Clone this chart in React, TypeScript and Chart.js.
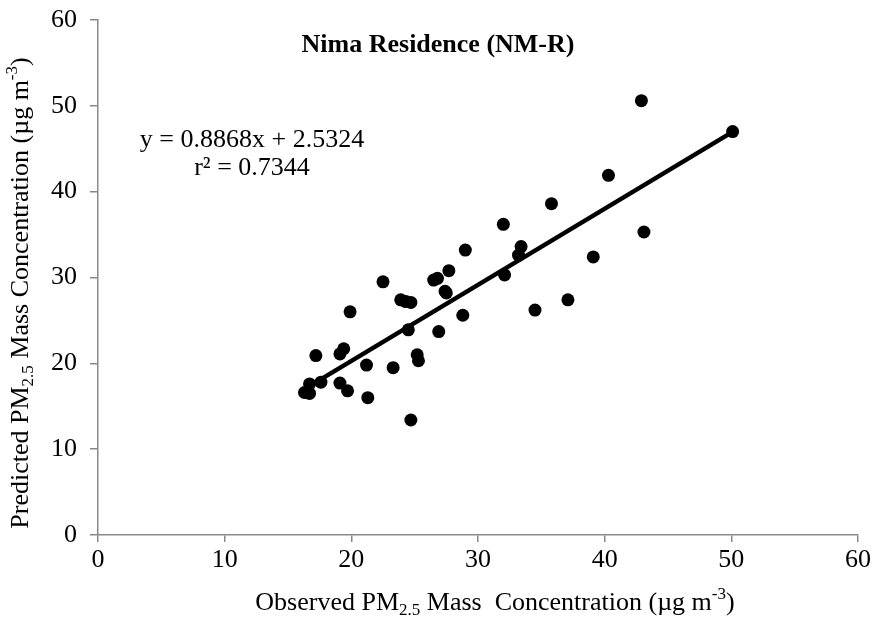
import React, { useEffect, useRef } from 'react';
import { Chart, registerables } from 'chart.js';

Chart.register(...registerables);

const observed = [16.3, 16.7, 16.7, 17.2, 17.6, 19.1, 19.4, 19.1, 19.7, 19.9, 21.2, 21.3, 22.5, 23.3, 23.9, 24.3, 24.7, 24.5, 24.7, 25.2, 25.3, 26.5, 26.8, 26.9, 27.4, 27.5, 27.7, 28.8, 29.0, 32.0, 32.1, 33.2, 33.4, 34.5, 35.8, 37.1, 39.1, 40.3, 42.9, 43.1, 50.1];
const predicted = [16.6, 16.5, 17.6, 20.9, 17.8, 21.1, 21.7, 17.7, 16.8, 26.0, 19.8, 16.0, 29.5, 19.5, 27.4, 27.2, 27.1, 23.9, 13.4, 21.0, 20.3, 29.7, 29.9, 23.7, 28.4, 28.2, 30.8, 25.6, 33.2, 36.2, 30.3, 32.6, 33.6, 26.2, 38.6, 27.4, 32.4, 41.9, 50.6, 35.3, 47.0];

const slope = 0.8868;
const intercept = 2.5324;
const axisMin = 0;
const axisMax = 60;
const tickStep = 10;

const titleText = 'Nima Residence (NM-R)';
const equationText = 'y = 0.8868x + 2.5324';
const r2Text = 'r² = 0.7344';

type Part = { t: string; m: 'n' | 'sub' | 'sup' };
const xTitleParts: Part[] = [
  { t: 'Observed PM', m: 'n' },
  { t: '2.5', m: 'sub' },
  { t: ' Mass  Concentration (µg m', m: 'n' },
  { t: '-3', m: 'sup' },
  { t: ')', m: 'n' },
];
const yTitleParts: Part[] = [
  { t: 'Predicted PM', m: 'n' },
  { t: '2.5', m: 'sub' },
  { t: ' Mass Concentration (µg m', m: 'n' },
  { t: '-3', m: 'sup' },
  { t: ')', m: 'n' },
];

const FONT = '"Liberation Serif", "Times New Roman", serif';

function drawRich(ctx: CanvasRenderingContext2D, parts: Part[], cx: number, cy: number) {
  const big = `26px ${FONT}`;
  const small = `17px ${FONT}`;
  let total = 0;
  const widths = parts.map((p) => {
    ctx.font = p.m === 'n' ? big : small;
    const w = ctx.measureText(p.t).width;
    total += w;
    return w;
  });
  let x = cx - total / 2;
  ctx.textAlign = 'left';
  ctx.textBaseline = 'middle';
  parts.forEach((p, i) => {
    ctx.font = p.m === 'n' ? big : small;
    const dy = p.m === 'sub' ? 8 : p.m === 'sup' ? -8 : 0;
    ctx.fillText(p.t, x, cy + dy);
    x += widths[i];
  });
}

const textPlugin = {
  id: 'textPlugin',
  afterDraw(chart: any) {
    const ctx: CanvasRenderingContext2D = chart.ctx;
    const a = chart.chartArea;
    ctx.save();
    ctx.fillStyle = '#000';
    ctx.textAlign = 'center';
    ctx.textBaseline = 'middle';
    ctx.font = `bold 26px ${FONT}`;
    ctx.fillText(titleText, a.left + 340, a.top + 25);
    ctx.font = `26px ${FONT}`;
    ctx.fillText(equationText, a.left + 154, a.top + 120);
    ctx.fillText(r2Text, a.left + 154, a.top + 148);
    drawRich(ctx, xTitleParts, 495, 603);
    ctx.translate(21, 293);
    ctx.rotate(-Math.PI / 2);
    drawRich(ctx, yTitleParts, 0, 0);
    ctx.restore();
  },
};

export default function App() {
  const ref = useRef<HTMLCanvasElement | null>(null);
  useEffect(() => {
    if (!ref.current) return;
    const pts = observed.map((x, i) => ({ x, y: predicted[i] }));
    const minX = Math.min(...observed);
    const maxX = Math.max(...observed);
    const fit = [
      { x: minX, y: slope * minX + intercept },
      { x: maxX, y: slope * maxX + intercept },
    ];
    const axisColor = '#898989';
    const tickFont = { family: FONT, size: 26 };
    const chart = new Chart(ref.current, {
      type: 'scatter',
      data: {
        datasets: [
          {
            type: 'line',
            data: fit,
            borderColor: '#000',
            borderWidth: 4.5,
            pointRadius: 0,
            fill: false,
          } as any,
          {
            data: pts,
            backgroundColor: '#000',
            borderColor: '#000',
            borderWidth: 0,
            pointRadius: 6.5,
          },
        ],
      },
      options: {
        animation: false,
        responsive: true,
        maintainAspectRatio: false,
        layout: { padding: { top: 20, right: 18, left: 0, bottom: 0 } },
        plugins: { legend: { display: false }, tooltip: { enabled: false } },
        scales: {
          x: {
            type: 'linear',
            min: axisMin,
            max: axisMax,
            ticks: { stepSize: tickStep, font: tickFont, color: '#000', padding: 3 },
            grid: { display: true, drawOnChartArea: false, drawTicks: true, tickLength: 7, color: axisColor, lineWidth: 1.5 },
            border: { color: axisColor, width: 1.5 },
            afterFit: (s: any) => { s.height = 89; s.paddingLeft = 0; s.paddingRight = 0; },
          },
          y: {
            type: 'linear',
            min: axisMin,
            max: axisMax,
            ticks: { stepSize: tickStep, font: tickFont, color: '#000', padding: 13 },
            grid: { display: true, drawOnChartArea: false, drawTicks: true, tickLength: 8, color: axisColor, lineWidth: 1.5 },
            border: { color: axisColor, width: 1.5 },
            afterFit: (s: any) => { s.width = 98; s.paddingTop = 0; s.paddingBottom = 0; },
          },
        },
      },
      plugins: [textPlugin],
    });
    return () => chart.destroy();
  }, []);
  return (
    <div style={{ position: 'fixed', left: 0, top: 0, width: 876, height: 624, background: '#fff' }}>
      <canvas ref={ref} />
    </div>
  );
}
